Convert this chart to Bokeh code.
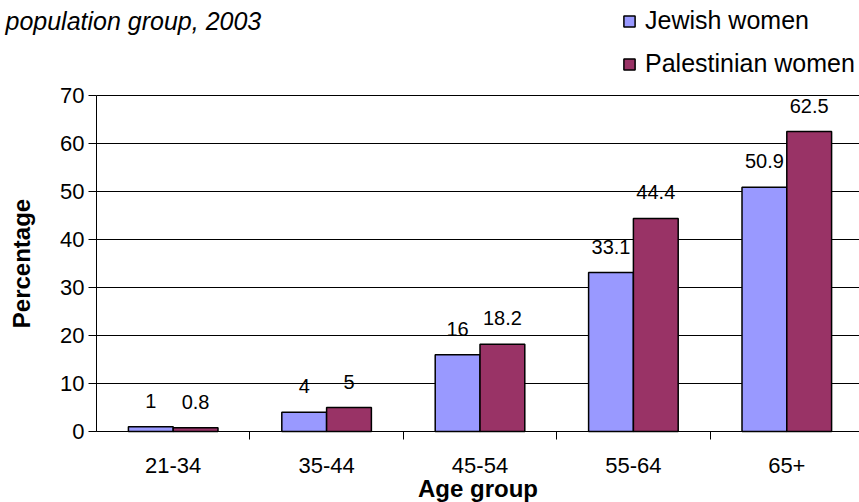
import numpy as np
from bokeh.plotting import figure
from bokeh.models import (ColumnDataSource, Range1d, FixedTicker, Legend, LegendItem,
                          Label, LinearAxis)
from bokeh.core.properties import value
from bokeh.embed import file_html
from bokeh.resources import INLINE

categories = ["21-34", "35-44", "45-54", "55-64", "65+"]
jewish = [1, 4, 16, 33.1, 50.9]
palestinian = [0.8, 5, 18.2, 44.4, 62.5]
y_ticks = [0, 10, 20, 30, 40, 50, 60, 70]

FONT = "Liberation Sans"
JEW_COLOR = "#9999FF"
PAL_COLOR = "#993366"

idx = np.arange(len(categories))
dodge = 0.146
bar_w = 0.292

src_j = ColumnDataSource(dict(x=idx - dodge, top=jewish, lab=[f"{v:g}" for v in jewish]))
src_p = ColumnDataSource(dict(x=idx + dodge, top=palestinian, lab=[f"{v:g}" for v in palestinian]))

# page geometry (pixels)
W, H = 859, 502
ax_left, ax_top, ax_bottom = 96, 95, 431
cat_px = 153.4
unit_px = (ax_bottom - ax_top) / 70.0

x0 = -0.5
x_start = x0 - ax_left / cat_px
x_end = x0 + (W - ax_left) / cat_px
y_start = -(H - ax_bottom) / unit_px
y_end = 70 + ax_top / unit_px

p = figure(width=W, height=H, output_backend="svg", toolbar_location=None,
           x_range=Range1d(x_start, x_end), y_range=Range1d(y_start, y_end),
           x_axis_location=None, y_axis_location=None,
           min_border=0, outline_line_color=None)
p.background_fill_color = "white"
p.border_fill_color = "white"
p.xgrid.visible = False
p.ygrid.visible = False

# gridlines at the y ticks, from the y axis to the right edge
p.segment(x0=[x0] * len(y_ticks), x1=[x_end] * len(y_ticks), y0=y_ticks, y1=y_ticks,
          line_color="black", line_width=1)

rj = p.vbar(x="x", top="top", width=bar_w, source=src_j, fill_color=JEW_COLOR,
            line_color="black", line_width=1.5)
rp = p.vbar(x="x", top="top", width=bar_w, source=src_p, fill_color=PAL_COLOR,
            line_color="black", line_width=1.5)

for src in (src_j, src_p):
    p.text(x="x", y="top", text="lab", source=src, text_align="center",
           text_baseline="middle", y_offset=-26, text_font=value(FONT),
           text_font_size="20px", text_color="black")

# y axis
yaxis = LinearAxis(fixed_location=x0, bounds=(0, 70), ticker=FixedTicker(ticks=y_ticks))
yaxis.axis_label = "Percentage"
yaxis.axis_label_text_font = FONT
yaxis.axis_label_text_font_style = "bold"
yaxis.axis_label_text_font_size = "24px"
yaxis.axis_label_text_color = "black"
yaxis.axis_label_standoff = 22
yaxis.major_label_text_font = FONT
yaxis.major_label_text_font_size = "22px"
yaxis.major_label_text_color = "black"
yaxis.major_tick_out = 8
yaxis.major_tick_in = 0
yaxis.minor_tick_line_color = None
yaxis.major_label_standoff = 4
yaxis.axis_line_color = "black"
yaxis.major_tick_line_color = "black"
p.add_layout(yaxis, "left")

# x axis
xaxis = LinearAxis(fixed_location=0, bounds=(x0, x_end),
                   ticker=FixedTicker(ticks=list(idx), minor_ticks=list(idx[:-1] + 0.5)))
xaxis.major_label_overrides = {int(i): c for i, c in zip(idx, categories)}
xaxis.major_tick_line_color = None
xaxis.major_tick_out = 0
xaxis.major_tick_in = 0
xaxis.minor_tick_line_color = "black"
xaxis.minor_tick_out = 8
xaxis.minor_tick_in = 0
xaxis.major_label_standoff = 18
xaxis.major_label_text_font = FONT
xaxis.major_label_text_font_size = "22px"
xaxis.major_label_text_color = "black"
xaxis.axis_label = "Age group"
xaxis.axis_label_text_font = FONT
xaxis.axis_label_text_font_style = "bold"
xaxis.axis_label_text_font_size = "24px"
xaxis.axis_label_text_color = "black"
xaxis.axis_label_standoff = -1
xaxis.axis_line_color = "black"
p.add_layout(xaxis, "below")

legend = Legend(items=[LegendItem(label="Jewish women", renderers=[rj]),
                       LegendItem(label="Palestinian women", renderers=[rp])],
                location=(622, 424), orientation="vertical",
                glyph_width=14, glyph_height=14, label_height=28,
                spacing=14, padding=0, margin=0, label_standoff=9,
                label_text_font=FONT, label_text_font_size="25px",
                label_text_color="black",
                border_line_color=None, background_fill_alpha=0)
p.add_layout(legend, "center")

title = Label(x=5, y=H - 20, x_units="screen", y_units="screen",
              text="population group, 2003", text_font=FONT,
              text_font_style="italic", text_font_size="25px",
              text_baseline="middle", text_align="left", text_color="black")
p.add_layout(title)

open("out.html", "w").write(file_html(p, INLINE))
